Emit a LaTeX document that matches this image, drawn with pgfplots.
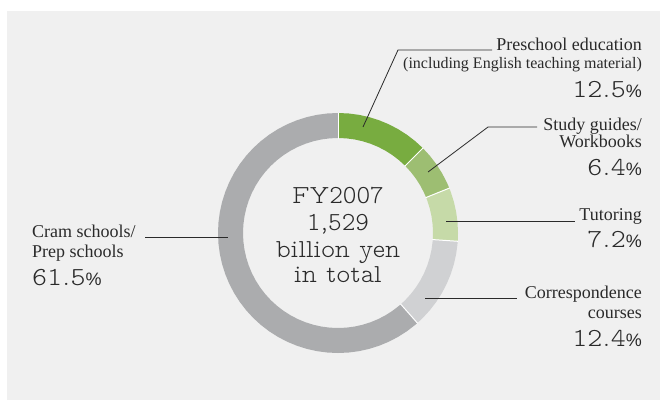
\documentclass[border=0pt]{standalone}
\usepackage{pgfplots}
\pgfplotsset{compat=1.18}
\usepackage{fontspec}
\setmainfont{Liberation Serif}
\newfontfamily\slab[Extension=.otf]{lmmonoproplt10-regular}
\newfontfamily\slabw[Extension=.otf, FakeStretch=1.1]{lmmonoproplt10-regular}
\newfontfamily\pct{Liberation Sans}
\definecolor{bg}{HTML}{F0F0F0}
\definecolor{txt}{HTML}{2A2A2A}
\definecolor{cA}{HTML}{78AC40}
\definecolor{cB}{HTML}{9DBE72}
\definecolor{cC}{HTML}{C6DAA8}
\definecolor{cD}{HTML}{D0D1D3}
\definecolor{cE}{HTML}{ABACAE}
\newcommand{\lab}[1]{{\fontsize{18}{18}\selectfont #1}}
\newcommand{\labs}[1]{{\fontsize{16}{16}\selectfont #1}}
\newcommand{\pc}[1]{{\slabw\fontsize{26}{26}\selectfont #1}{\pct\fontsize{18}{18}\selectfont\%}}
\newcommand{\ctr}[1]{{\slab\fontsize{26}{26}\selectfont #1}}
\begin{document}
\begin{tikzpicture}
\path[use as bounding box] (0,0) rectangle (660pt,400pt);
\fill[bg] (7pt,0) rectangle (660pt,389pt);
\begin{axis}[at={(0,0)}, anchor=south west, scale only axis,
  width=660pt, height=400pt, xmin=-338, xmax=322, ymin=-167, ymax=233,
  hide axis, clip=false]
% Preschool education 12.5% : 45 -> 90
\addplot[draw=none, fill=cA, data cs=polar] coordinates {
(45,120)(50,120)(55,120)(60,120)(65,120)(70,120)(75,120)(80,120)(85,120)(90,120)
(90,95)(85,95)(80,95)(75,95)(70,95)(65,95)(60,95)(55,95)(50,95)(45,95)} -- cycle;
% Study guides 6.4% : 21.96 -> 45
\addplot[draw=none, fill=cB, data cs=polar] coordinates {
(21.96,120)(25,120)(30,120)(35,120)(40,120)(45,120)
(45,95)(40,95)(35,95)(30,95)(25,95)(21.96,95)} -- cycle;
% Tutoring 7.2% : -3.96 -> 21.96
\addplot[draw=none, fill=cC, data cs=polar] coordinates {
(-3.96,120)(0,120)(5,120)(10,120)(15,120)(20,120)(21.96,120)
(21.96,95)(20,95)(15,95)(10,95)(5,95)(0,95)(-3.96,95)} -- cycle;
% Correspondence 12.4% : -48.6 -> -3.96
\addplot[draw=none, fill=cD, data cs=polar] coordinates {
(-48.6,120)(-45,120)(-40,120)(-35,120)(-30,120)(-25,120)(-20,120)(-15,120)(-10,120)(-5,120)(-3.96,120)
(-3.96,95)(-5,95)(-10,95)(-15,95)(-20,95)(-25,95)(-30,95)(-35,95)(-40,95)(-45,95)(-48.6,95)} -- cycle;
% Cram schools 61.5% : -270 -> -48.6
\addplot[draw=none, fill=cE, data cs=polar] coordinates {
(-270,120)(-265,120)(-260,120)(-255,120)(-250,120)(-245,120)(-240,120)(-235,120)(-230,120)(-225,120)
(-220,120)(-215,120)(-210,120)(-205,120)(-200,120)(-195,120)(-190,120)(-185,120)(-180,120)(-175,120)
(-170,120)(-165,120)(-160,120)(-155,120)(-150,120)(-145,120)(-140,120)(-135,120)(-130,120)(-125,120)
(-120,120)(-115,120)(-110,120)(-105,120)(-100,120)(-95,120)(-90,120)(-85,120)(-80,120)(-75,120)
(-70,120)(-65,120)(-60,120)(-55,120)(-50,120)(-48.6,120)
(-48.6,95)(-50,95)(-55,95)(-60,95)(-65,95)(-70,95)(-75,95)(-80,95)(-85,95)(-90,95)
(-95,95)(-100,95)(-105,95)(-110,95)(-115,95)(-120,95)(-125,95)(-130,95)(-135,95)(-140,95)
(-145,95)(-150,95)(-155,95)(-160,95)(-165,95)(-170,95)(-175,95)(-180,95)(-185,95)(-190,95)
(-195,95)(-200,95)(-205,95)(-210,95)(-215,95)(-220,95)(-225,95)(-230,95)(-235,95)(-240,95)
(-245,95)(-250,95)(-255,95)(-260,95)(-265,95)(-270,95)} -- cycle;
% white separators
\addplot[white, line width=1pt, data cs=polar] coordinates {(90,94.5)(90,120.5)};
\addplot[white, line width=1pt, data cs=polar] coordinates {(45,94.5)(45,120.5)};
\addplot[white, line width=1pt, data cs=polar] coordinates {(21.96,94.5)(21.96,120.5)};
\addplot[white, line width=1pt, data cs=polar] coordinates {(-3.96,94.5)(-3.96,120.5)};
\addplot[white, line width=1pt, data cs=polar] coordinates {(-48.6,94.5)(-48.6,120.5)};
% leader lines
\addplot[txt, line width=0.8pt] coordinates {(25,106) (60,183) (154,183)};
\addplot[txt, line width=0.8pt] coordinates {(90,61) (150,106) (199,106)};
\addplot[txt, line width=0.8pt] coordinates {(108,12) (237,12)};
\addplot[txt, line width=0.8pt] coordinates {(87,-65) (179,-65)};
\addplot[txt, line width=0.8pt] coordinates {(-193,-4) (-110,-4)};
% labels
\node[anchor=base east, inner sep=0, text=txt] at (axis cs:304,182) {\lab{Preschool education}};
\node[anchor=base east, inner sep=0, text=txt] at (axis cs:304,164) {\labs{(including English teaching material)}};
\node[anchor=base east, inner sep=0, text=txt] at (axis cs:304,135) {\pc{12.5}};
\node[anchor=base east, inner sep=0, text=txt] at (axis cs:304,103) {\lab{Study guides/}};
\node[anchor=base east, inner sep=0, text=txt] at (axis cs:304,86) {\lab{Workbooks}};
\node[anchor=base east, inner sep=0, text=txt] at (axis cs:304,58) {\pc{6.4}};
\node[anchor=base east, inner sep=0, text=txt] at (axis cs:304,13) {\lab{Tutoring}};
\node[anchor=base east, inner sep=0, text=txt] at (axis cs:304,-14) {\pc{7.2}};
\node[anchor=base east, inner sep=0, text=txt] at (axis cs:304,-65) {\lab{Correspondence}};
\node[anchor=base east, inner sep=0, text=txt] at (axis cs:304,-85) {\lab{courses}};
\node[anchor=base east, inner sep=0, text=txt] at (axis cs:304,-113) {\pc{12.4}};
\node[anchor=base west, inner sep=0, text=txt] at (axis cs:-306,-4) {\lab{Cram schools/}};
\node[anchor=base west, inner sep=0, text=txt] at (axis cs:-306,-24) {\lab{Prep schools}};
\node[anchor=base west, inner sep=0, text=txt] at (axis cs:-306,-52) {\pc{61.5}};
% centre
\node[anchor=base, inner sep=0, text=txt] at (axis cs:0,30) {\ctr{FY2007}};
\node[anchor=base, inner sep=0, text=txt] at (axis cs:0,3) {\ctr{1,529}};
\node[anchor=base, inner sep=0, text=txt] at (axis cs:0,-24) {\ctr{billion yen}};
\node[anchor=base, inner sep=0, text=txt] at (axis cs:0,-49) {\ctr{in total}};
\end{axis}
\end{tikzpicture}
\end{document}
